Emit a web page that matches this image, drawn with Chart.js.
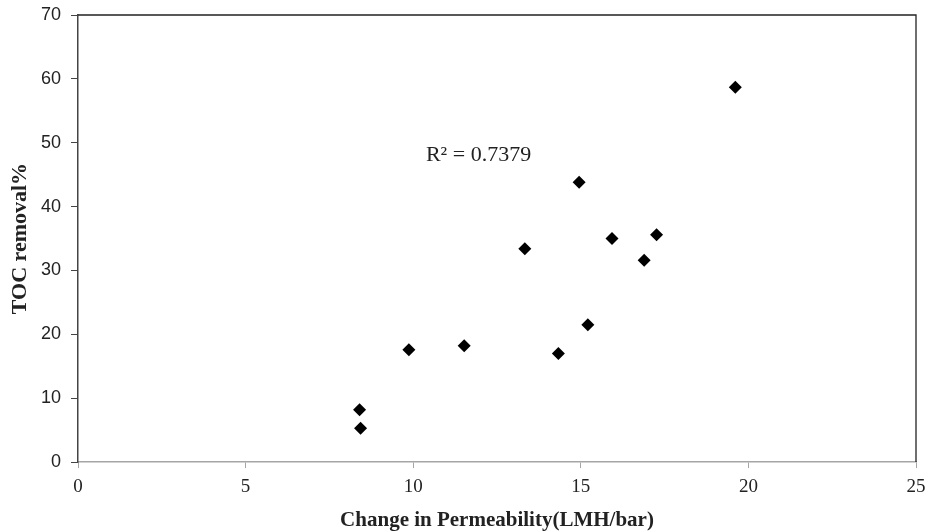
<!DOCTYPE html>
<html>
<head>
<meta charset="utf-8">
<script src="https://cdn.jsdelivr.net/npm/chart.js@4.4.0/dist/chart.umd.min.js"></script>
<style>
    html, body { margin: 0; padding: 0; background: #fff; }
    #wrap { width: 930px; height: 532px; }
</style>
</head>
<body>
<div id="wrap"><canvas id="scatter-chart"></canvas></div>
<script>
// datos
var permeabilidad = [8.40, 8.43, 9.87, 11.52, 13.33, 14.33, 14.95, 15.21, 15.93, 16.89, 17.26, 19.61];
var remocionToc = [8.2, 5.3, 17.6, 18.2, 33.4, 17.0, 43.8, 21.5, 35.0, 31.6, 35.6, 58.7];
var xTicks = [0, 5, 10, 15, 20, 25];
var yTicks = [0, 10, 20, 30, 40, 50, 60, 70];
var etiquetaR2 = 'R² = 0.7379';
var posR2 = { x: 10.38, y: 48.1 };

var puntos = [];
permeabilidad.forEach(function(p, i) {
    puntos.push({ x: p, y: remocionToc[i] });
});

// borde superior y derecho + texto de R2
var extras = {
    id: 'extras',
    afterDraw: function(chart) {
        var ctx = chart.ctx;
        var area = chart.chartArea;
        ctx.save();
        ctx.strokeStyle = '#222';
        ctx.lineWidth = 1.3;
        ctx.beginPath();
        ctx.moveTo(area.left, area.top);
        ctx.lineTo(area.right, area.top);
        ctx.lineTo(area.right, area.bottom);
        ctx.stroke();
        ctx.fillStyle = '#222';
        ctx.font = '22px "Liberation Serif"';
        ctx.textBaseline = 'middle';
        ctx.fillText(etiquetaR2, chart.scales.x.getPixelForValue(posR2.x), chart.scales.y.getPixelForValue(posR2.y));
        ctx.restore();
    }
};

new Chart(document.getElementById('scatter-chart'), {
    type: 'scatter',
    data: {
        datasets: [
            {
                label: 'TOC',
                data: puntos,
                pointStyle: 'rectRot',
                pointRadius: 6.5,
                pointHoverRadius: 6.5,
                backgroundColor: '#000',
                borderColor: '#000',
                borderWidth: 0
            }
        ]
    },
    options: {
        responsive: true,
        maintainAspectRatio: false,
        animation: false,
        layout: { padding: { left: 9, right: 14, top: 15, bottom: 0 } },
        plugins: {
            legend: { display: false },
            tooltip: { enabled: false }
        },
        scales: {
            x: {
                type: 'linear',
                min: 0,
                max: 25,
                afterBuildTicks: function(axis) {
                    axis.ticks = xTicks.map(function(v) { return { value: v }; });
                },
                afterFit: function(axis) {
                    axis.paddingLeft = 0;
                    axis.paddingRight = 0;
                },
                grid: { drawOnChartArea: false, drawTicks: true, tickLength: 6, color: '#a6a6a6' },
                border: { color: '#a6a6a6', width: 1.5 },
                ticks: {
                    color: '#222',
                    padding: 8,
                    font: { family: 'Liberation Serif', size: 19 }
                },
                title: {
                    display: true,
                    text: 'Change in Permeability(LMH/bar)',
                    color: '#222',
                    padding: { top: 2, bottom: 0 },
                    font: { family: 'Liberation Serif', size: 21, weight: 'bold', lineHeight: 1.1 }
                }
            },
            y: {
                type: 'linear',
                min: 0,
                max: 70,
                afterBuildTicks: function(axis) {
                    axis.ticks = yTicks.map(function(v) { return { value: v }; });
                },
                afterFit: function(axis) {
                    axis.paddingTop = 0;
                    axis.paddingBottom = 0;
                },
                grid: { drawOnChartArea: false, drawTicks: true, tickLength: 7, color: '#444' },
                border: { color: '#444', width: 1.5 },
                ticks: {
                    color: '#222',
                    padding: 10,
                    font: { family: 'Liberation Sans', size: 18 }
                },
                title: {
                    display: true,
                    text: 'TOC removal%',
                    color: '#222',
                    padding: { top: 0, bottom: 0 },
                    font: { family: 'Liberation Serif', size: 22, weight: 'bold', lineHeight: 1.0 }
                }
            }
        }
    },
    plugins: [extras]
});
</script>
</body>
</html>
